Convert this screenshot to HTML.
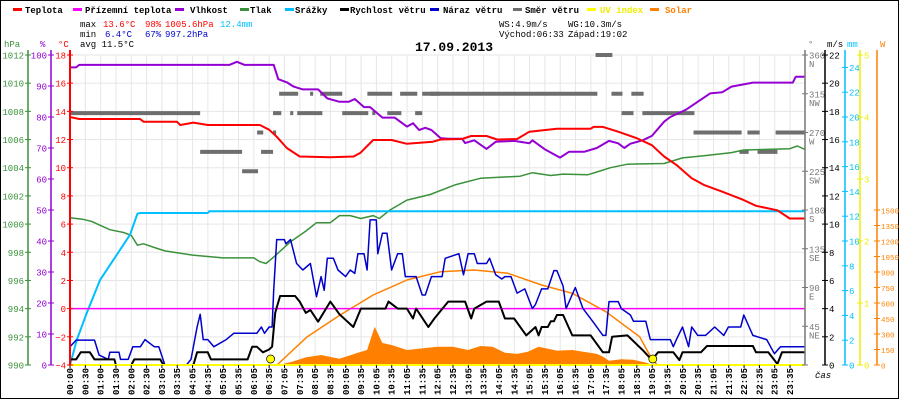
<!DOCTYPE html>
<html><head><meta charset="utf-8"><style>
body{margin:0;background:#fff}
svg{display:block;font-family:"Liberation Mono",monospace}
</style></head><body>
<svg id="c" width="900" height="400" xmlns="http://www.w3.org/2000/svg">
<rect x="0.5" y="0.5" width="898" height="398" fill="#fff" stroke="#000"/>
<g id="grid"></g>
<g id="series"></g>
<g id="axes"></g>
<g font-size="9" font-weight="bold">
<g><rect x="13" y="8" width="9" height="3" fill="#f00"/><text x="25" y="13">Teplota</text></g>
<g><rect x="73" y="8" width="9" height="3" fill="#f0f"/><text x="85" y="13">Přízemní teplota</text></g>
<g><rect x="175" y="8" width="9" height="3" fill="#9400d3"/><text x="190" y="13">Vlhkost</text></g>
<g><rect x="240" y="8" width="9" height="3" fill="#3a913a"/><text x="250" y="13">Tlak</text></g>
<g><rect x="285" y="8" width="9" height="3" fill="#00bfff"/><text x="295" y="13">Srážky</text></g>
<g><rect x="340" y="8" width="9" height="3" fill="#000"/><text x="350" y="13">Rychlost větru</text></g>
<g><rect x="430" y="8" width="9" height="3" fill="#0000cd"/><text x="443" y="13">Náraz větru</text></g>
<g><rect x="513" y="8" width="9" height="3" fill="#6e6e6e"/><text x="525" y="13">Směr větru</text></g>
<g><rect x="587" y="8" width="9" height="3" fill="#ff0"/><text x="600" y="13" fill="#ee0">UV index</text></g>
<g><rect x="650" y="8" width="9" height="3" fill="#ff8000"/><text x="665" y="13" fill="#ff8000">Solar</text></g>
</g>
<g font-size="9">
<text y="27"><tspan x="80">max</tspan><tspan x="103" fill="#f00">13.6°C</tspan><tspan x="145" fill="#f00">98%</tspan><tspan x="165" fill="#f00">1005.6hPa</tspan><tspan x="220" fill="#00bfff">12.4mm</tspan></text>
<text y="37"><tspan x="80">min</tspan><tspan x="105" fill="#0000cd">6.4°C</tspan><tspan x="145" fill="#0000cd">67%</tspan><tspan x="165" fill="#0000cd">997.2hPa</tspan></text>
<text x="80" y="47">avg 11.5°C</text>
<text y="27"><tspan x="499">WS:4.9m/s</tspan><tspan x="568">WG:10.3m/s</tspan></text>
<text y="37"><tspan x="499">Východ:06:33</tspan><tspan x="568">Západ:19:02</tspan></text>
</g>
<text x="415" y="51" font-size="13" font-weight="bold">17.09.2013</text>
<text x="815" y="378" font-size="9" font-style="italic">čas</text>
<script>
const tempT=[0,0.3,2.29,2.4,3.49,3.6,4.03,4.5,5.1,6.2,6.5,6.75,7.08,7.5,8.5,9.26,9.48,9.9,10.5,11,11.85,12.1,12.8,13.1,13.6,13.95,14.6,15.0,15.9,17.0,17.1,17.4,17.9,18.5,19,19.4,19.8,20.3,20.7,21.3,22,22.4,23.1,23.5,24];
const tempV=[13.6,13.46,13.46,13.27,13.27,13.03,13.2,13.03,13.03,13.03,12.7,12.2,11.4,10.8,10.75,10.8,11.05,11.97,11.97,11.7,11.85,12.0,12.04,12.25,12.25,12.0,12.04,12.56,12.77,12.77,12.9,12.9,12.56,12.1,11.6,10.8,10.2,9.25,8.78,8.3,7.7,7.3,6.98,6.4,6.4];
const humT=[0,0.2,0.3,5.2,5.45,5.7,6.65,6.8,7.1,7.3,7.6,8.1,8.4,8.8,9.1,9.3,9.6,9.8,10.2,10.6,11,11.2,11.4,11.6,11.8,12.1,12.35,12.8,12.9,13.2,13.6,13.9,14.5,15,15.1,15.5,16,16.3,16.8,17.2,17.6,17.9,18.1,18.3,18.7,19,19.4,19.6,20.1,20.9,21.3,21.6,22.3,23.6,23.7,24];
const humV=[96,96,96.8,96.8,97.8,96.8,96.8,92.2,91.1,89.8,88.9,88.9,86,84.9,84.9,85.8,83.2,83.2,79.8,79.8,76.9,78,75.8,76.5,75.8,73.2,73,73,71.6,72.5,69.7,72,72.3,71.5,72.5,69.6,66.9,68.8,68.8,70,72.3,71.5,70,71.4,72.5,73.9,78.5,80,82.3,87.6,88,89.8,91.1,91.1,93,93];
const presT=[0,0.4,0.7,1.3,1.75,2,2.2,2.4,2.8,3.1,4,5,5.55,6,6.2,6.4,6.65,7.2,7.7,8.05,8.5,8.8,9.15,9.5,9.9,10.1,10.45,11,11.76,12.6,13.4,14.7,15.1,15.7,16.1,16.9,17.2,17.65,18.2,19.4,20,20.7,21.6,22,23.5,23.75,24];
const presV=[1000.45,1000.35,1000.2,999.6,999.4,999.2,998.5,998.6,998.3,998.1,997.8,997.6,997.6,997.6,997.33,997.2,997.66,998.75,999.5,1000.1,1000.1,1000.6,1000.6,1000.4,1000.6,1000.4,1001.0,1001.7,1002.1,1002.8,1003.25,1003.4,1003.65,1003.45,1003.55,1003.5,1003.7,1004.0,1004.25,1004.3,1004.7,1004.85,1005.07,1005.26,1005.35,1005.54,1005.3];
const rainT=[0,0.22,0.55,0.98,1.63,1.96,2.2,2.3,4.5,4.55,24];
const rainV=[0,2.0,4.2,6.85,9.27,10.5,12.2,12.26,12.26,12.4,12.4];
const speedT=[0,0.2,0.35,0.5,0.65,0.8,1.0,1.45,1.5,2.0,2.1,2.2,2.95,3.05,4.03,4.15,4.2,4.5,4.6,4.7,5.8,5.95,6.1,6.3,6.5,6.6,6.7,6.86,7.35,7.5,7.7,7.85,8.1,8.5,8.8,9.25,9.5,10.3,10.4,10.7,11.0,11.2,11.3,11.7,11.9,12.35,12.9,13.1,13.2,13.6,14.0,14.2,14.5,14.9,15.2,15.3,15.4,15.6,15.7,15.8,15.9,16.1,16.4,17.0,17.4,17.6,17.7,18.2,18.7,19.0,19.2,19.7,19.9,20.0,20.6,20.8,22.3,22.4,22.8,23.1,23.25,24];
const speedV=[0.4,0.4,0.9,0.9,0.9,0.4,0.4,0.4,0,0,0.4,0.4,0.4,0,0,0.9,0.9,0.9,0.4,0.4,0.4,1.3,1.3,0.9,1.1,1.3,3.7,4.9,4.9,4.5,3.7,3.9,3.07,4.5,3.6,2.7,4.0,4.0,4.5,4.0,4.0,3.3,4.0,2.7,3.3,4.5,4.5,3.3,4.0,4.5,4.5,3.3,3.3,2.1,2.7,2.1,2.7,2.7,3.1,3.1,3.55,3.55,2.1,2.1,0.9,0.9,2.0,2.1,1.06,0.35,0.9,0.9,0.35,0.9,0.9,1.35,1.35,0.9,0.9,0.07,0.9,0.9];
const gustT=[0,0.2,0.8,0.95,1.25,1.3,1.6,1.65,1.9,2.05,2.3,2.45,2.75,2.9,3.1,3.8,3.95,4.15,4.25,4.35,4.5,4.7,5.1,5.35,6.1,6.25,6.35,6.5,6.6,6.65,6.75,7.0,7.05,7.2,7.4,7.6,7.85,8.05,8.2,8.3,8.4,8.6,8.75,9.0,9.15,9.3,9.4,9.6,9.7,9.8,10.0,10.05,10.2,10.35,10.5,10.7,10.85,10.95,11.3,11.5,11.6,11.8,12.15,12.25,12.7,12.85,13.0,13.2,13.3,13.6,13.7,13.9,14.1,14.2,14.4,14.6,14.85,15.1,15.2,15.4,15.6,15.8,15.9,16.1,16.2,16.5,16.75,17.1,17.4,17.5,17.6,17.9,18.0,18.3,18.4,18.8,18.95,19.6,19.7,19.8,20.0,20.2,20.3,20.5,20.75,21.05,21.35,21.5,21.9,22.0,22.3,22.75,23.0,23.2,24];
const gustV=[1.3,1.77,1.77,0.7,0.4,0.9,0.9,0.4,0.4,1.3,1.3,1.8,1.3,1.3,0,0,0.4,2.7,3.6,1.8,1.8,1.3,1.8,2.25,2.25,2.7,2.25,2.7,2.7,5.3,8.9,8.9,8.6,8.9,7.2,6.74,7.2,4.85,6.27,5.3,7.57,7.57,6.74,6.27,6.74,6.5,7.9,7.9,6.74,10.3,10.3,7.9,9.35,9.35,6.74,7.9,7.9,6.27,6.27,4.97,4.97,6.27,6.27,7.57,7.9,6.4,7.9,7.9,7.2,7.2,7.57,6.4,6.1,6.27,6.27,5.1,5.4,4.0,4.3,5.4,5.4,6.7,6.7,5.6,4.0,5.5,4.0,3.0,2.1,2.1,4.5,4.5,4.0,3.55,3.1,3.1,1.8,1.8,1.3,1.8,2.7,1.3,2.7,2.1,2.1,2.7,2.1,2.7,2.7,3.55,2.1,1.8,0.8,1.3,1.3];
const solarT=[6.8,7.25,7.7,8.2,8.8,9.35,9.7,9.95,10.2,10.5,11,11.5,12,12.5,13.0,13.4,13.8,14.2,14.6,14.95,15.3,15.9,16.4,17.2,17.4,17.6,18.0,18.4,18.8,19.05];
const solarV=[0,32,74,97,60,113,145,371,213,194,145,161,177,177,145,184,177,119,107,129,177,139,145,107,81,42,55,50,23,0];
const clearT=[6.76,7.75,8.82,9.9,11.0,12.1,13.2,14.3,15.4,16.4,17.5,18.6,19.0,19.18];
const clearV=[0,274,484,677,823,903,919,887,774,694,516,274,58,0];
const dirStart=[0,4.25,5.62,6.11,6.24,6.63,6.63,6.83,7.19,7.42,7.84,8.17,8.89,9.71,9.87,10.36,10.78,11.27,11.5,11.76,17.16,17.68,18.01,18.33,18.69,20.36,21.86,22.12,22.45,23.04];
const dirEnd=[4.25,5.62,6.14,6.31,6.63,6.73,6.9,7.45,7.29,8.24,7.94,8.89,9.74,10.52,9.97,10.82,11.34,11.5,12.09,17.22,17.71,18.04,18.4,18.73,20.39,21.93,22.16,22.52,23.1,24];
const dirDeg=[292.5,247.5,225,270,247.5,270,292.5,315,292.5,292.5,315,315,292.5,315,292.5,292.5,315,292.5,315,315,360,315,292.5,315,292.5,270,247.5,270,247.5,270];
const timeLabels=["00:00","00:30","01:00","01:30","02:00","02:30","03:05","03:35","04:05","04:35","05:05","05:35","06:05","06:35","07:05","07:35","08:05","08:35","09:05","09:35","10:05","10:35","11:05","11:35","12:05","12:35","13:05","13:35","14:05","14:35","15:05","15:35","16:05","16:35","17:05","17:35","18:05","18:35","19:05","19:35","20:05","20:35","21:05","21:35","22:05","22:35","23:05","23:35"];
const sunEvents=[6.55,19.03];
const groundTemp=0;

const NS="http://www.w3.org/2000/svg";
const L=70,R=805,T=55,B=365;
const X=h=>L+h*(R-L)/24;
const yT=v=>T+(18-v)*(B-T)/22;
const yH=v=>B-v*(B-T)/100;
const yP=v=>T+(1012-v)*(B-T)/22;
const yMM=v=>B-v*12.4;
const yMS=v=>B-v*(B-T)/22;
const yW=v=>B-v*0.10333;
const yD=v=>B-v*(B-T)/360;
const yUV=v=>B-v*62;
function mk(tag,attrs,parent){const e=document.createElementNS(NS,tag);for(const k in attrs)e.setAttribute(k,attrs[k]);parent.appendChild(e);return e;}
const grid=document.getElementById('grid'),ser=document.getElementById('series'),ax=document.getElementById('axes');
for(let i=0;i<=11;i++){const y=T+i*(B-T)/11;const g=mk('line',{x1:L,x2:R,y1:y,y2:y,stroke:'#e6e6e6'},grid);

}
timeLabels.forEach((t,i)=>{const x=L+i*15.32;const g=mk('line',{x1:x,x2:x,y1:T,y2:B,stroke:'#e6e6e6'},grid);


const tx=mk('text',{x:0,y:0,'font-size':9,'font-weight':'bold','text-anchor':'end',transform:`translate(${x+3},368) rotate(-90)`},ax);tx.textContent=t;


const tk=mk('line',{x1:x,x2:x,y1:365,y2:368,stroke:'#000'},ax);

});
function poly(ts,vs,fy,color,w,name){const p=ts.map((t,i)=>X(t).toFixed(1)+','+fy(vs[i]).toFixed(1)).join(' ');
const e=mk('polyline',{points:p,fill:'none',stroke:color,'stroke-width':w,'stroke-linejoin':'round'},ser);

return e;}
{const p=[X(solarT[0])+','+B].concat(solarT.map((t,i)=>X(t).toFixed(1)+','+yW(solarV[i]).toFixed(1))).concat([X(solarT[solarT.length-1])+','+B]).join(' ');
const e=mk('polygon',{points:p,fill:'#ff8000'},ser);

}
dirDeg.forEach((d,i)=>{const e=mk('rect',{x:X(dirStart[i]),y:yD(d)-2,width:X(dirEnd[i])-X(dirStart[i]),height:4,fill:'#6e6e6e'},ser);

});
poly(clearT,clearV,yW,'#ff8000',1.5,'solar-theoretical-line');
poly(presT,presV,yP,'#3a913a',1.5,'pressure-line');
poly(rainT,rainV,yMM,'#00bfff',2,'rain-line');
{const e=mk('line',{x1:L,x2:R,y1:yT(groundTemp),y2:yT(groundTemp),stroke:'#f0f','stroke-width':1.5},ser);

}
poly(gustT,gustV,yMS,'#0000cd',1.5,'wind-gust-line');
poly(speedT,speedV,yMS,'#000',2,'wind-speed-line');
poly(humT,humV,yH,'#9400d3',2,'humidity-line');
poly(tempT,tempV,yT,'#f00',2,'temperature-line');
{const e=mk('line',{x1:L,x2:R,y1:B,y2:B,stroke:'#ff0','stroke-width':2},ser);

}
sunEvents.forEach(h=>{const e=mk('circle',{cx:X(h),cy:359,r:4,fill:'#ff0',stroke:'#000','stroke-width':0.7},ser);

});
function axis(x,color,vals,fy,side,name,fmt,fs){const l=mk('line',{x1:x,x2:x,y1:T-5,y2:B,stroke:color,'stroke-width':(name==='temp-axis'?2:1.5)},ax);


vals.forEach(v=>{const y=fy(v);mk('line',{x1:x-3,x2:x+3,y1:y,y2:y,stroke:color},ax);
const t=mk('text',{x:side<0?x-4:x+4,y:y+3.5,'font-size':fs||9,fill:color,'text-anchor':side<0?'end':'start'},ax);t.textContent=fmt?fmt(v):v;

});}
const r=(a,b,s)=>{const o=[];for(let v=a;v<=b+1e-9;v+=s)o.push(v);return o;};
axis(28,'#3a913a',r(990,1012,2),yP,-1,'pressure-axis');
axis(51,'#9400d3',r(0,100,10),yH,-1,'humidity-axis');
axis(70,'#f00',r(-4,18,2),yT,-1,'temp-axis',v=>v<0?'−'+(-v):v);
const dirN={0:'',45:'NE',90:'E',135:'SE',180:'S',225:'SW',270:'W',315:'NW',360:'N'};
axis(805,'#777',r(0,360,45),yD,1,'direction-axis',v=>v===0?'':v);
r(45,360,45).forEach(v=>{const t=mk('text',{x:809,y:yD(v)+12,'font-size':9,fill:'#777'},ax);t.textContent=dirN[v];

});
axis(825,'#000',r(0,22,2),yMS,1,'wind-speed-axis');
axis(845,'#00bfff',r(0,24,2),yMM,1,'rain-axis');
axis(860,'#ee0',r(0,5,1),yUV,1,'uv-axis');
axis(877,'#ff8000',r(0,1500,150),yW,1,'solar-axis',null,7.5);
[['hPa',4,'#3a913a'],['%',40,'#9400d3'],['°C',58,'#f00'],['°',808,'#777'],['m/s',827,'#000'],['mm',847,'#00bfff'],['W',880,'#ff8000']].forEach(([s,x,c])=>{const t=mk('text',{x:x,y:47,'font-size':9,fill:c},ax);t.textContent=s;

});
</script>
</svg>
</body></html>
